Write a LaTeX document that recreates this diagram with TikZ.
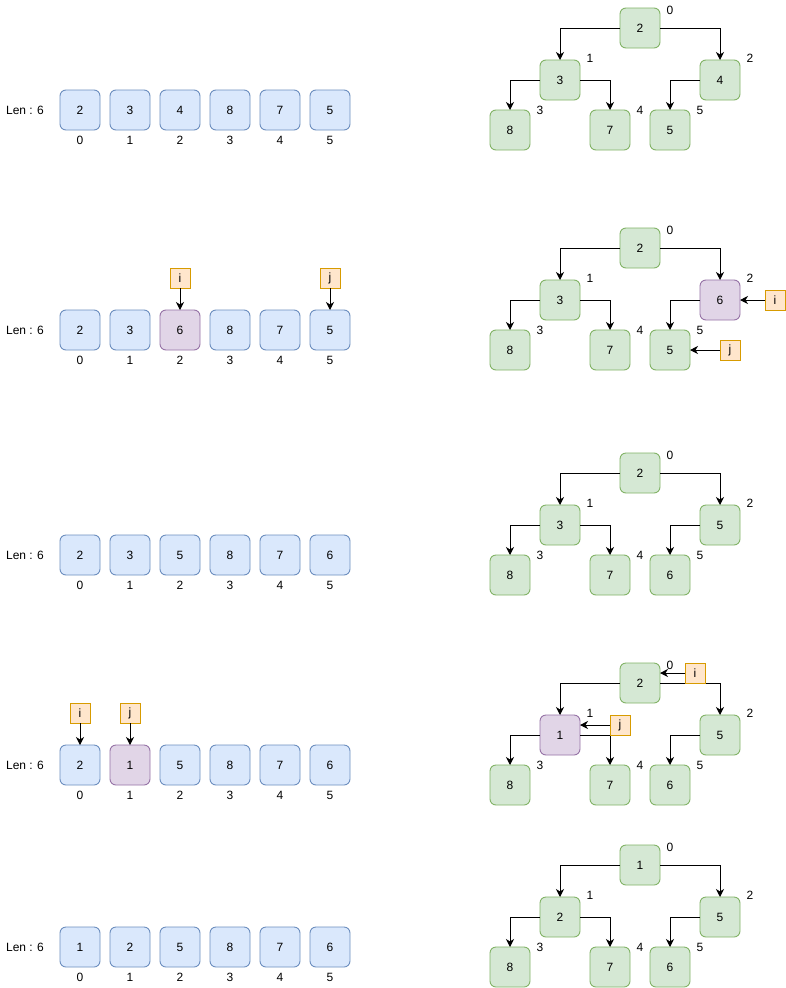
\documentclass[tikz,border=0pt]{standalone}
\usepackage{fontspec}
\setmainfont{Liberation Sans}
\usetikzlibrary{arrows.meta}
\definecolor{abF}{HTML}{DAE8FC}\definecolor{abD}{HTML}{6C8EBF}
\definecolor{apF}{HTML}{E1D5E7}\definecolor{apD}{HTML}{9673A6}
\definecolor{tbF}{HTML}{D5E8D4}\definecolor{tbD}{HTML}{82B366}
\definecolor{tpF}{HTML}{E1D5E7}\definecolor{tpD}{HTML}{9673A6}
\definecolor{ptF}{HTML}{FFE6CC}\definecolor{ptD}{HTML}{D79B00}
\tikzset{
  cell/.style={rectangle, rounded corners=6pt, minimum size=40pt, inner sep=0pt, outer sep=0pt, line width=0.9pt, font=\fontsize{12}{14}\selectfont},
  lbl/.style={inner sep=0pt, font=\fontsize{12}{14}\selectfont},
  ptr/.style={rectangle, minimum size=20pt, inner sep=0pt, outer sep=0pt, line width=0.9pt, fill=ptF, draw=ptD, font=\fontsize{12}{14}\selectfont},
  arr/.style={line width=1pt, -{Stealth[length=8pt,width=8pt,inset=2.5pt]}}
}
\begin{document}
\begin{tikzpicture}[x=1pt,y=-1pt]
\path[fill=white] (0,0) rectangle (786,988);
\useasboundingbox (0,0) rectangle (786,988);
\foreach \r/\dy/\row in {1/0/{2/b,3/b,4/b,8/b,7/b,5/b}, 2/220/{2/b,3/b,6/p,8/b,7/b,5/b}, 3/445/{2/b,3/b,5/b,8/b,7/b,6/b}, 4/655/{2/b,1/p,5/b,8/b,7/b,6/b}, 5/837/{1/b,2/b,5/b,8/b,7/b,6/b}} {
  \node[lbl] (len\r) at (25,110+\dy) {Len : 6};
  \foreach \v/\cc [count=\k from 0] in \row {
    \pgfmathsetmacro\ax{80+50*\k}
    \node[cell, fill=a\cc F, draw=a\cc D] (a\r n\k) at (\ax,110+\dy) {\v};
    \node[lbl] (ai\r n\k) at (\ax,140+\dy) {\k};
    \pgfmathsetmacro\tx{{640,560,720,510,610,670}[\k]}
    \pgfmathsetmacro\ty{{28,80,80,130,130,130}[\k]}
    \node[cell, fill=t\cc F, draw=t\cc D] (t\r n\k) at (\tx,\ty+\dy) {\v};
    \pgfmathsetmacro\lx{{670,590,750,540,640,700}[\k]}
    \pgfmathsetmacro\ly{{10,58,58,110,110,110}[\k]}
    \node[lbl] (ti\r n\k) at (\lx,\ly+\dy) {\k};
  }
  \draw[arr] (t\r n0.west) -| (t\r n1.north);
  \draw[arr] (t\r n0.east) -| (t\r n2.north);
  \draw[arr] (t\r n1.west) -| (t\r n3.north);
  \draw[arr] (t\r n1.east) -| (t\r n4.north);
  \draw[arr] (t\r n2.west) -| (t\r n5.north);
}
% row 2 pointers
\node[ptr] (pi2) at (180,278) {i};
\node[ptr] (pj2) at (330,278) {j};
\draw[arr] (pi2.south) -- (a2n2.north);
\draw[arr] (pj2.south) -- (a2n5.north);
\node[ptr] (qi2) at (775,300) {i};
\node[ptr] (qj2) at (730,350) {j};
\draw[arr] (qi2.west) -- (t2n2.east);
\draw[arr] (qj2.west) -- (t2n5.east);
% row 4 pointers
\node[ptr] (pi4) at (80,713) {i};
\node[ptr] (pj4) at (130,713) {j};
\draw[arr] (pi4.south) -- (a4n0.north);
\draw[arr] (pj4.south) -- (a4n1.north);
\node[ptr] (qi4) at (695,673) {i};
\node[ptr] (qj4) at (620,725) {j};
\draw[arr] (qi4.west) -- (qi4.west -| t4n0.east);
\draw[arr] (qj4.west) -- (qj4.west -| t4n1.east);
\end{tikzpicture}
\end{document}
